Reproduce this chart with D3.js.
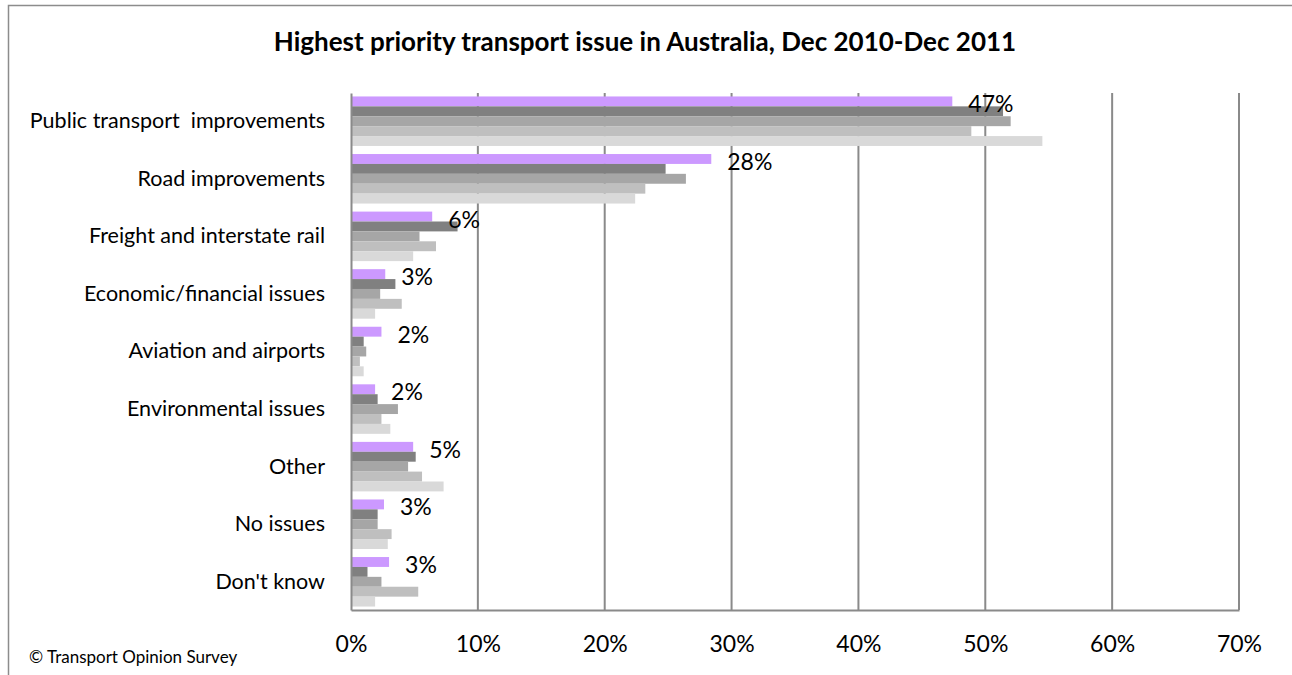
<html>

<meta charset="utf-8" />
<head>
<title>Highest priority transport issue</title>
<style>
body {
  margin: 0;
  background: white;
}

svg text {
  font-family: Lato, sans-serif;
  fill: black;
}
</style>
<script src="https://d3js.org/d3.v7.min.js" charset="utf-8"></script>
</head>

<body>
<svg class="chart"></svg>

<script>
var chartWidth = 1292;
var chartHeight = 675;

/********
 * Data *
 ********/

var categories = [
  "Public transport  improvements",
  "Road improvements",
  "Freight and interstate rail",
  "Economic/financial issues",
  "Aviation and airports",
  "Environmental issues",
  "Other",
  "No issues",
  "Don't know"
];

// top bar of each group is the latest survey, the one with labels
var seriesNames = ["Dec 2011", "Sep 2011", "Jun 2011", "Mar 2011", "Dec 2010"];

var dec2011 = [47.4, 28.4, 6.4, 2.7, 2.4, 1.9, 4.9, 2.6, 3.0];
var sep2011 = [51.4, 24.8, 8.4, 3.5, 1.0, 2.1, 5.1, 2.1, 1.3];
var jun2011 = [52.0, 26.4, 5.4, 2.3, 1.2, 3.7, 4.5, 2.1, 2.4];
var mar2011 = [48.9, 23.2, 6.7, 4.0, 0.7, 2.4, 5.6, 3.2, 5.3];
var dec2010 = [54.5, 22.4, 4.9, 1.9, 1.0, 3.1, 7.3, 2.9, 1.9];

var labels = ["47%", "28%", "6%", "3%", "2%", "2%", "5%", "3%", "3%"];

var xTicks = [0, 10, 20, 30, 40, 50, 60, 70];

var seriesValues = [dec2011, sep2011, jun2011, mar2011, dec2010];
var seriesColors = ["#cc99ff", "#808080", "#a6a6a6", "#bfbfbf", "#d9d9d9"];

/**********
 * Scales *
 **********/

var plotLeft = 351, plotRight = 1239, plotTop = 93, plotBottom = 610;

var x = d3.scaleLinear()
    .domain([0, 70])
    .range([plotLeft, plotRight]);

var y = d3.scaleBand()
    .domain(categories)
    .range([plotTop, plotBottom])
    .paddingInner(0.14)
    .paddingOuter(0.06);

var ySub = d3.scaleBand()
    .domain(seriesNames)
    .range([0, y.bandwidth()]);

var c = d3.scaleOrdinal()
    .domain(seriesNames)
    .range(seriesColors);

/**************
 * Make Chart *
 **************/

var canvas = d3.select(".chart")
    .attr("width", chartWidth)
    .attr("height", chartHeight);

// outer frame
canvas.append("rect")
    .attr("x", 8.5)
    .attr("y", 5.5)
    .attr("width", chartWidth + 20)
    .attr("height", chartHeight + 20)
    .attr("fill", "none")
    .attr("stroke", "#8c8c8c")
    .attr("stroke-width", 1.5);

canvas.append("text")
    .text("Highest priority transport issue in Australia, Dec 2010-Dec 2011")
    .attr("x", 645)
    .attr("y", 51)
    .style("font-size", "26px")
    .style("font-weight", "bold")
    .style("text-anchor", "middle");

// gridlines
canvas.append("g")
    .selectAll("line")
    .data(xTicks.slice(1))
  .enter().append("line")
    .attr("x1", function(d) { return x(d); })
    .attr("x2", function(d) { return x(d); })
    .attr("y1", plotTop)
    .attr("y2", plotBottom)
    .attr("stroke", "#8a8a8a")
    .attr("stroke-width", 2);

// bars
var groups = canvas.append("g")
    .selectAll("g")
    .data(seriesNames)
  .enter().append("g")
    .attr("fill", function(d) { return c(d); });

groups.selectAll("rect")
    .data(function(d, i) {
      return seriesValues[i].map(function(v, j) {
        return { series: d, cat: categories[j], value: v };
      });
    })
  .enter().append("rect")
    .attr("x", x(0))
    .attr("y", function(d) { return y(d.cat) + ySub(d.series); })
    .attr("width", function(d) { return x(d.value) - x(0); })
    .attr("height", ySub.bandwidth());

// data labels for the latest survey
canvas.append("g")
    .selectAll("text")
    .data(labels)
  .enter().append("text")
    .text(function(d) { return d; })
    .attr("x", function(d, i) { return x(dec2011[i]) + 16; })
    .attr("y", function(d, i) { return y(categories[i]) + ySub(seriesNames[0]) + 16; })
    .style("font-size", "23px");

// axes
var xAxis = d3.axisBottom(x)
    .tickValues(xTicks)
    .tickSize(0)
    .tickPadding(26)
    .tickFormat(function(d) { return d + "%"; });

var xAxisGroup = canvas.append("g")
    .attr("transform", "translate(0," + plotBottom + ")")
    .call(xAxis);

xAxisGroup.select(".domain")
    .attr("stroke", "#8a8a8a")
    .attr("stroke-width", 2);

xAxisGroup.selectAll("text")
    .style("font-family", "Lato, sans-serif")
    .style("font-size", "23px")
    .attr("fill", "black");

var yAxis = d3.axisLeft(y)
    .tickSize(0)
    .tickPadding(26);

var yAxisGroup = canvas.append("g")
    .attr("transform", "translate(" + plotLeft + ",0)")
    .call(yAxis);

yAxisGroup.select(".domain")
    .attr("stroke", "#8a8a8a")
    .attr("stroke-width", 2);

yAxisGroup.selectAll("text")
    .style("font-family", "Lato, sans-serif")
    .style("font-size", "21.5px")
    .style("white-space", "pre")
    .attr("fill", "black");

// source note
canvas.append("text")
    .text("\u00a9 Transport Opinion Survey")
    .attr("x", 29)
    .attr("y", 663)
    .style("font-size", "17px");

</script>
</body>
</html>
